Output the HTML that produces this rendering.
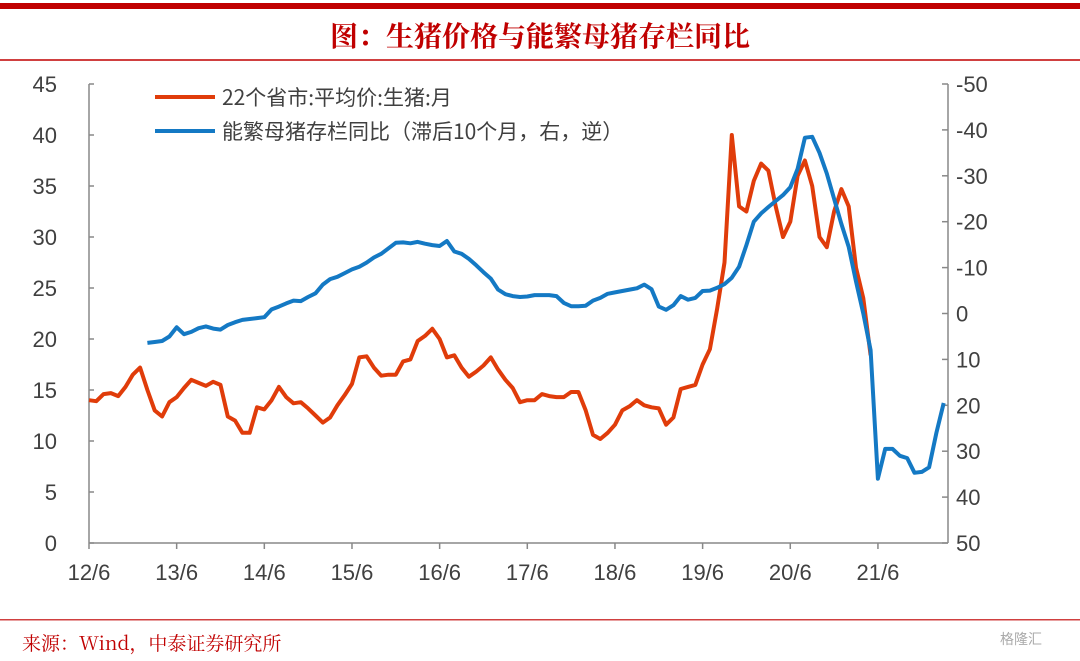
<!DOCTYPE html>
<html><head><meta charset="utf-8"><style>
body{margin:0;background:#fff;width:1080px;height:656px;overflow:hidden;font-family:"Liberation Sans","Noto Sans CJK SC",sans-serif}
</style></head><body>
<svg width="1080" height="656" viewBox="0 0 1080 656">
<rect x="0" y="3" width="1080" height="6" fill="#c00000"/>
<text x="540" y="46" text-anchor="middle" font-size="28" font-weight="bold" fill="#c00000" font-family="'Noto Serif CJK SC','Noto Sans CJK SC',serif">图：生猪价格与能繁母猪存栏同比</text>
<rect x="0" y="59" width="1080" height="2" fill="#d04040"/>
<g id="axes" stroke="#888" stroke-width="1.5" fill="none"></g>
<g id="labels" font-size="22" fill="#404040"></g>
<g id="series"></g>
<g font-size="21" fill="#404040" font-family="'Noto Sans CJK SC',sans-serif">
<line x1="155" y1="97" x2="215" y2="97" stroke="#e03c0a" stroke-width="4"/>
<text x="222" y="105">22个省市:平均价:生猪:月</text>
<line x1="155" y1="131" x2="215" y2="131" stroke="#1479c4" stroke-width="4"/>
<text x="222" y="139">能繁母猪存栏同比（滞后10个月，右，逆）</text>
</g>
<rect x="0" y="619" width="1080" height="1.5" fill="#d04040"/>
<text x="22" y="650" font-size="19" fill="#c00000" font-family="'Noto Serif CJK SC',serif">来源：Wind，中泰证券研究所</text>
<text x="1000" y="644" font-size="14" fill="#aaa">格隆汇</text>
</svg>
<script>
const xTickLabels=["12/6","13/6","14/6","15/6","16/6","17/6","18/6","19/6","20/6","21/6"];
const leftTicks=[0,5,10,15,20,25,30,35,40,45];
const rightTicks=[-50,-40,-30,-20,-10,0,10,20,30,40,50];
const priceStart=0;
const priceValues=[14.0,13.9,14.6,14.7,14.4,15.3,16.5,17.2,15,13,12.4,13.8,14.3,15.2,16,15.7,15.4,15.8,15.5,12.4,12.0,10.8,10.8,13.3,13.1,14,15.3,14.3,13.7,13.8,13.2,12.5,11.8,12.3,13.5,14.5,15.6,18.2,18.3,17.2,16.4,16.5,16.5,17.8,18,19.8,20.3,21,20,18.2,18.4,17.2,16.3,16.8,17.4,18.2,17,16,15.2,13.8,14,14,14.6,14.4,14.3,14.3,14.8,14.8,13,10.6,10.2,10.8,11.6,13,13.4,14,13.5,13.3,13.2,11.6,12.3,15.1,15.3,15.5,17.5,19,23,27.5,40,33,32.5,35.5,37.2,36.5,33,30,31.5,36,37.5,35,30,29,32.5,34.7,33,27,24,18.4];
const sowStart=8;
const sowValues=[6.4,6.2,6.0,5,3,4.5,4,3.2,2.8,3.3,3.5,2.5,1.9,1.4,1.2,1.0,0.8,-0.9,-1.5,-2.2,-2.8,-2.7,-3.6,-4.4,-6.3,-7.5,-8.0,-8.8,-9.6,-10.2,-11.1,-12.2,-13,-14.2,-15.4,-15.5,-15.3,-15.6,-15.2,-14.9,-14.7,-15.8,-13.5,-13,-11.9,-10.5,-9,-7.6,-5.2,-4.2,-3.8,-3.6,-3.7,-4,-4,-4,-3.8,-2.3,-1.6,-1.6,-1.7,-2.8,-3.4,-4.3,-4.6,-4.9,-5.2,-5.5,-6.3,-5.3,-1.5,-0.8,-1.8,-3.8,-3,-3.4,-4.9,-5,-5.6,-6.4,-7.8,-10.2,-14.9,-20,-21.8,-23.2,-24.5,-25.8,-27.5,-31.5,-38.3,-38.5,-35,-30.5,-25,-19.5,-14.5,-7,0,8,36,29.5,29.5,31,31.5,34.7,34.5,33.5,26,19.5];
const X0=89,XR=948,YT=84,YB=543,MSTEP=7.305;
const xOf=i=>X0+i*MSTEP;
const yL=v=>YB-(v/45)*(YB-YT);
const yR=v=>YT+((v+50)/100)*(YB-YT);
const NS="http://www.w3.org/2000/svg";
function mk(tag,attrs,parent){const e=document.createElementNS(NS,tag);for(const k in attrs)e.setAttribute(k,attrs[k]);parent.appendChild(e);return e;}
const axes=document.getElementById('axes'),labels=document.getElementById('labels'),series=document.getElementById('series');
let e;
e=mk('line',{x1:X0,y1:YT,x2:X0,y2:YB},axes);


e=mk('line',{x1:XR,y1:YT,x2:XR,y2:YB},axes);


e=mk('line',{x1:X0,y1:YB,x2:XR,y2:YB},axes);


leftTicks.forEach(v=>{
  mk('line',{x1:X0,y1:yL(v),x2:X0+5,y2:yL(v)},axes);
  e=mk('text',{x:X0-32,y:yL(v)+8,'text-anchor':'end'},labels);
  e.textContent=v;
  
  
});
rightTicks.forEach(v=>{
  mk('line',{x1:XR-6,y1:yR(v),x2:XR,y2:yR(v)},axes);
  e=mk('text',{x:XR+8,y:yR(v)+8},labels);
  e.textContent=v;
  
  
});
xTickLabels.forEach((t,k)=>{
  const x=xOf(k*12);
  mk('line',{x1:x,y1:YB,x2:x,y2:YB+6},axes);
  e=mk('text',{x:x,y:YB+37,'text-anchor':'middle'},labels);
  e.textContent=t;
  
  
});
const pp=priceValues.map((v,i)=>xOf(priceStart+i).toFixed(1)+','+yL(v).toFixed(1)).join(' ');
e=mk('polyline',{points:pp,fill:'none',stroke:'#e03c0a','stroke-width':4,'stroke-linejoin':'round'},series);


const sp=sowValues.map((v,i)=>xOf(sowStart+i).toFixed(1)+','+yR(v).toFixed(1)).join(' ');
e=mk('polyline',{points:sp,fill:'none',stroke:'#1479c4','stroke-width':4,'stroke-linejoin':'round'},series);


</script>
</body></html>
